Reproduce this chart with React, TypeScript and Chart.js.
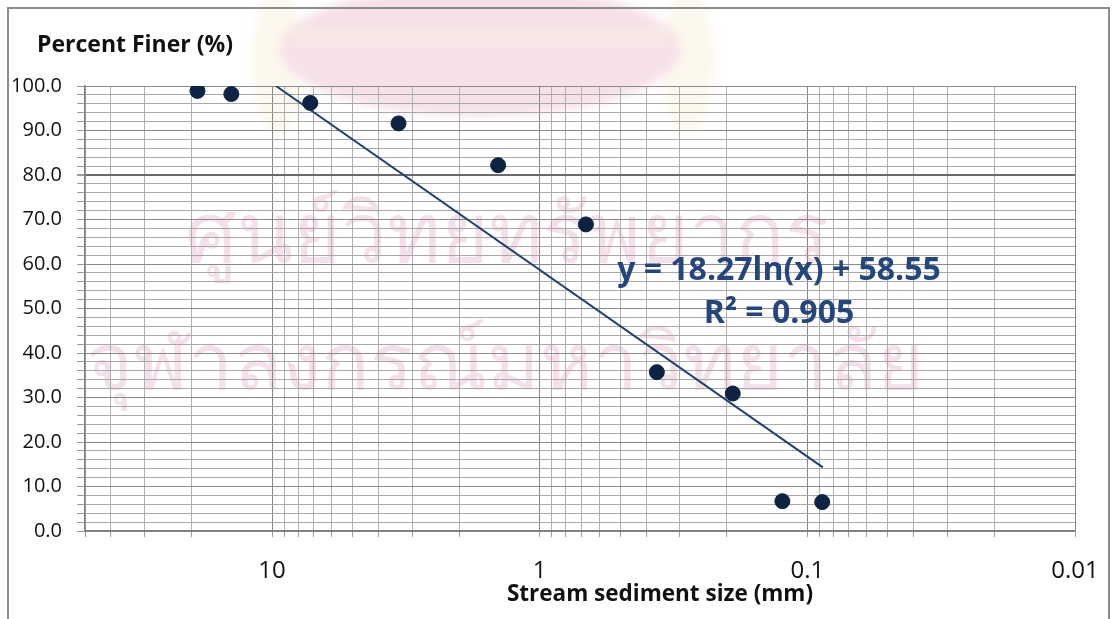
import { useEffect, useRef } from 'react';
import { Chart, registerables } from 'chart.js';

Chart.register(...registerables);

// ---- data ----
const grainSizeMm = [19.0, 14.2, 7.2, 3.37, 1.43, 0.672, 0.365, 0.19, 0.124, 0.088];
const percentFiner = [98.9, 98.2, 96.2, 91.6, 82.2, 68.9, 35.7, 30.9, 6.7, 6.5];
// logarithmic trendline end points (clipped to the plot top)
const trendSizeMm = [9.67, 0.0875];
const trendPercent = [100, 14.3];

// ---- axes ----
const xMin = 0.01;
const xMax = 50;
const xDecades = [0.01, 0.1, 1, 10];
const xMultipliers = [1, 2, 3, 4, 5, 6, 7, 8, 9];
const xLabelValues = [10, 1, 0.1, 0.01];
const yMin = 0;
const yMax = 100;
const yStep = 2;
const yLabelStep = 10;

// ---- text ----
const yTitle = 'Percent Finer (%)';
const xTitle = 'Stream sediment size (mm)';
const equationLines = ['y = 18.27ln(x) + 58.55', 'R\u00B2 = 0.905'];
const watermarkLines = ['ศูนย์วิทยทรัพยากร', 'จุฬาลงกรณ์มหาวิทยาลัย'];

const xGridValues: number[] = [];
xDecades.forEach((d) => {
  xMultipliers.forEach((m) => {
    const v = parseFloat((d * m).toPrecision(6));
    if (v >= xMin && v <= xMax) xGridValues.push(v);
  });
});
if (!xGridValues.includes(xMax)) xGridValues.push(xMax);

const isLabelled = (v: number) => xLabelValues.some((l) => Math.abs(l - v) < 1e-9 * Math.max(1, l));

const decorPlugin = {
  id: 'decor',
  beforeDraw(chart: any) {
    const ctx = chart.ctx as CanvasRenderingContext2D;
    ctx.save();
    ctx.fillStyle = '#ffffff';
    ctx.fillRect(0, 0, chart.width, chart.height);
    // faint logo
    ctx.filter = 'blur(5px)';
    ctx.fillStyle = '#fcf8ee';
    ctx.beginPath();
    ctx.ellipse(278, 62, 26, 72, 0, 0, Math.PI * 2);
    ctx.ellipse(688, 62, 26, 72, 0, 0, Math.PI * 2);
    ctx.fill();
    ctx.fillStyle = '#f6e1e8';
    ctx.beginPath();
    ctx.ellipse(480, 50, 200, 66, 0, 0, Math.PI * 2);
    ctx.fill();
    ctx.fillStyle = '#faf2e2';
    ctx.fillRect(290, 30, 380, 5);
    ctx.fillRect(290, 41, 380, 4);
    ctx.filter = 'none';
    // faint watermark text
    ctx.fillStyle = '#f5dfeb';
    ctx.textAlign = 'center';
    ctx.textBaseline = 'alphabetic';
    const targets = [
      { text: watermarkLines[0], cx: 507, base: 262, w: 645 },
      { text: watermarkLines[1], cx: 505, base: 390, w: 840 },
    ];
    targets.forEach((t) => {
      ctx.font = '100px "DejaVu Sans"';
      const mw = ctx.measureText(t.text).width || 1;
      const size = Math.min(130, (100 * t.w) / mw);
      ctx.font = `${size}px "DejaVu Sans"`;
      ctx.fillText(t.text, t.cx, t.base);
    });
    // outer frame
    ctx.strokeStyle = '#8c8c8c';
    ctx.lineWidth = 2;
    ctx.strokeRect(8, 8, 1101, 700);
    ctx.restore();
  },
  afterDraw(chart: any) {
    const ctx = chart.ctx as CanvasRenderingContext2D;
    ctx.save();
    ctx.fillStyle = '#111111';
    ctx.font = 'bold 23px "Open Sans"';
    ctx.textAlign = 'left';
    ctx.textBaseline = 'alphabetic';
    ctx.fillText(yTitle, 37, 52);
    ctx.textAlign = 'center';
    ctx.font = 'bold 22.5px "Open Sans"';
    ctx.fillText(xTitle, 660, 601);
    ctx.fillStyle = '#23467f';
    ctx.font = 'bold 32px "Open Sans"';
    ctx.fillText(equationLines[0], 779, 280);
    ctx.fillText(equationLines[1], 779, 323);
    ctx.restore();
  },
};

export default function App() {
  const ref = useRef<HTMLCanvasElement | null>(null);
  useEffect(() => {
    if (!ref.current) return;
    const chart = new Chart(ref.current, {
      type: 'scatter',
      data: {
        datasets: [
          {
            label: 'Percent finer',
            data: grainSizeMm.map((x, i) => ({ x, y: percentFiner[i] })),
            pointRadius: 7.5,
            pointHoverRadius: 7.5,
            backgroundColor: '#0d2343',
            borderColor: '#0d2343',
            borderWidth: 1,
            order: 1,
          },
          {
            label: 'Log trend',
            type: 'line',
            data: trendSizeMm.map((x, i) => ({ x, y: trendPercent[i] })),
            showLine: true,
            pointRadius: 0,
            borderColor: '#1f4275',
            borderWidth: 2,
            order: 2,
          } as any,
        ],
      },
      options: {
        responsive: false,
        animation: false,
        events: [],
        layout: { padding: { left: 0, right: 37, top: 86, bottom: 0 } },
        plugins: { legend: { display: false }, tooltip: { enabled: false }, title: { display: false } },
        scales: {
          x: {
            type: 'logarithmic',
            reverse: true,
            min: xMin,
            max: xMax,
            afterBuildTicks: (scale: any) => {
              scale.ticks = xGridValues.map((v) => ({ value: v, major: isLabelled(v) }));
            },
            afterFit: (scale: any) => {
              scale.height = 88;
            },
            ticks: {
              autoSkip: false,
              maxRotation: 0,
              minRotation: 0,
              padding: 20,
              color: '#111111',
              font: { family: '"Open Sans"', size: 24 },
              callback: (value: any) => (isLabelled(Number(value)) ? String(Number(value)) : ''),
            },
            grid: {
              color: (c: any) => (c.tick && isLabelled(c.tick.value) ? '#858585' : '#b0b0b0'),
              lineWidth: 1,
              tickLength: 6,
              tickColor: '#9a9a9a',
            },
            border: { display: true, color: '#7f7f7f', width: 1.5 },
          },
          y: {
            min: yMin,
            max: yMax,
            afterFit: (scale: any) => {
              scale.width = 85;
            },
            ticks: {
              stepSize: yStep,
              autoSkip: false,
              padding: 15,
              color: '#111111',
              font: { family: '"Open Sans"', size: 20 },
              callback: (value: any) => (Number(value) % yLabelStep === 0 ? Number(value).toFixed(1) : ''),
            },
            grid: {
              color: (c: any) => {
                const v = c.tick ? c.tick.value : 0;
                if (v === 80) return '#6a6a6a';
                return v % yLabelStep === 0 ? '#8a8a8a' : '#a8a8a8';
              },
              lineWidth: (c: any) => (c.tick && c.tick.value === 80 ? 2 : 1),
              tickLength: 8,
              tickColor: '#9a9a9a',
            },
            border: { display: true, color: '#7f7f7f', width: 1.5 },
          },
        },
      },
      plugins: [decorPlugin],
    } as any);
    return () => chart.destroy();
  }, []);
  return (
    <div style={{ position: 'fixed', left: 0, top: 0, width: 1112, height: 619, background: '#fff' }}>
      <canvas ref={ref} width={1112} height={619} style={{ display: 'block', width: 1112, height: 619 }} />
    </div>
  );
}
